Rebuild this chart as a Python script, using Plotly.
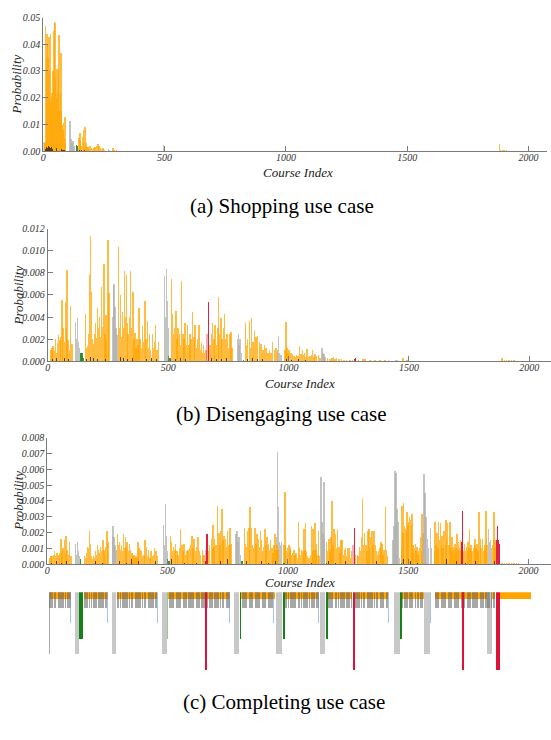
import plotly.graph_objects as go

# ================= DATA =================
# ---- (a) Shopping use case ----
a_orange_x = [8, 11, 14, 16, 19, 22, 25, 27, 30, 33, 36, 38, 41, 44, 47, 49, 52, 55, 58, 60, 63, 66, 68, 71, 74, 77, 79, 82, 85, 88, 90, 93,
              149, 152, 155, 159, 162, 166, 168, 173, 177, 181, 185, 189, 193, 199, 204, 210, 215, 221, 226, 230, 236, 241, 247, 251,
              288, 295, 303, 312, 322, 333, 347, 367, 395, 415,
              1881, 1885, 1893, 1900, 1910, 1920, 1930, 1940, 1950, 1960]
a_orange_y = [0.0030, 0.0470, 0.0350, 0.0440, 0.0400, 0.0350, 0.0430, 0.0300, 0.0440, 0.0180, 0.0200, 0.0220, 0.0300, 0.0450, 0.0485, 0.0480,
              0.0270, 0.0200, 0.0310, 0.0220, 0.0300, 0.0435, 0.0150, 0.0220, 0.0370, 0.0150, 0.0100, 0.0080, 0.0105, 0.0050, 0.0130, 0.0030,
              0.0050, 0.0070, 0.0040, 0.0020, 0.0053, 0.0030, 0.0080, 0.0090, 0.0030, 0.0018, 0.0015, 0.0010, 0.0020, 0.0012, 0.0008, 0.0013,
              0.0015, 0.0020, 0.0028, 0.0020, 0.0014, 0.0010, 0.0012, 0.0006,
              0.0012, 0.0005, 0.0004, 0.0003, 0.0003, 0.0002, 0.0001, 0.0001, 0.0003, 0.0001,
              0.0027, 0.0006, 0.0005, 0.0004, 0.0004, 0.0003, 0.0003, 0.0002, 0.0003, 0.0002]
a_gray_x = [4, 112, 116, 120, 124, 128, 269, 274, 496]
a_gray_y = [0.0035, 0.0115, 0.0045, 0.0030, 0.0040, 0.0020, 0.0008, 0.0006, 0.0023]
a_green_x = [137, 141]
a_green_y = [0.0023, 0.0020]
a_dark_x = [10, 14, 18, 23, 27, 31, 36, 40, 45, 49, 53, 57, 62, 66, 70, 75, 80, 85, 90, 150, 160, 170, 180, 190, 200, 215, 230, 245]
a_dark_y = [0.0010, 0.0018, 0.0012, 0.0020, 0.0015, 0.0012, 0.0018, 0.0010, 0.0014, 0.0034, 0.0016, 0.0012, 0.0018, 0.0010, 0.0012,
            0.0008, 0.0006, 0.0005, 0.0004, 0.0005, 0.0004, 0.0006, 0.0003, 0.0004, 0.0003, 0.0003, 0.0002, 0.0002]

# ---- (b) Disengaging use case ----
b_orange_x = [12, 17, 21, 26, 31, 35, 40, 44, 49, 53, 58, 62, 68, 72, 76, 79, 83, 89, 93, 99,
              156, 160, 164, 168, 172, 176, 181, 185, 189, 193, 197, 201, 206, 210, 214, 218, 222, 226, 232, 236, 240, 244, 250, 253,
              293, 297, 301, 306, 310, 314, 318, 322, 325, 329, 333, 338, 343, 347, 353, 357, 361, 365, 369, 374, 378, 382, 388, 392,
              397, 403, 407, 413, 417, 421, 426, 433, 439, 443, 447, 453, 458,
              514, 518, 522, 526, 531, 535, 540, 545, 550, 554, 560, 565, 569, 575, 579, 585, 589, 594, 600, 606, 611, 617, 622, 628,
              633, 638, 642, 646, 651, 656, 672, 678, 683, 689, 694, 700, 706, 708, 713, 718, 722, 728, 732, 736, 742, 746, 750, 756,
              760, 764,
              820, 824, 829, 836, 842, 846, 851, 857, 864, 871, 878, 885, 892, 899, 906, 913, 920, 926, 933, 940, 947, 953,
              985, 988, 992, 996, 1001, 1006, 1011, 1015, 1022, 1028, 1033, 1039, 1044, 1050, 1057, 1061, 1065, 1070, 1075, 1081,
              1088, 1094, 1098, 1104, 1109, 1116, 1123, 1130,
              1160, 1171, 1180, 1185, 1192, 1199, 1209, 1220, 1229, 1240, 1254, 1265,
              1289, 1309, 1316, 1337, 1358, 1378, 1399, 1413,
              1475, 1490, 1510, 1540, 1600, 1650, 1700, 1750, 1800, 1885, 1895, 1905, 1915, 1925, 1935, 1945]
b_orange_y = [0.0010, 0.0012, 0.0014, 0.0009, 0.0020, 0.0008, 0.0017, 0.0024, 0.0019, 0.0022, 0.0056, 0.0030, 0.0018, 0.0054, 0.0030,
              0.0083, 0.0019, 0.0010, 0.0050, 0.0016,
              0.0043, 0.0012, 0.0014, 0.0025, 0.0078, 0.0114, 0.0063, 0.0020, 0.0016, 0.0025, 0.0035, 0.0021, 0.0048, 0.0030, 0.0040,
              0.0022, 0.0067, 0.0031, 0.0088, 0.0025, 0.0042, 0.0020, 0.0110, 0.0062,
              0.0104, 0.0030, 0.0060, 0.0022, 0.0045, 0.0030, 0.0082, 0.0040, 0.0078, 0.0035, 0.0025, 0.0040, 0.0082, 0.0030, 0.0063,
              0.0020, 0.0026, 0.0012, 0.0020, 0.0015, 0.0048, 0.0020, 0.0012, 0.0032, 0.0018, 0.0055, 0.0020, 0.0037, 0.0012, 0.0025,
              0.0010, 0.0025, 0.0012, 0.0018, 0.0033, 0.0010, 0.0018,
              0.0075, 0.0043, 0.0025, 0.0030, 0.0046, 0.0020, 0.0030, 0.0025, 0.0015, 0.0073, 0.0025, 0.0020, 0.0035, 0.0015, 0.0033,
              0.0015, 0.0025, 0.0020, 0.0045, 0.0022, 0.0033, 0.0012, 0.0020, 0.0033, 0.0010, 0.0017, 0.0008, 0.0015, 0.0008, 0.0010,
              0.0015, 0.0025, 0.0035, 0.0020, 0.0033, 0.0015, 0.0030, 0.0058, 0.0025, 0.0039, 0.0020, 0.0030, 0.0043, 0.0020, 0.0025,
              0.0025, 0.0012, 0.0025, 0.0027, 0.0012,
              0.0035, 0.0015, 0.0020, 0.0037, 0.0012, 0.0039, 0.0018, 0.0028, 0.0022, 0.0023, 0.0018, 0.0016, 0.0010, 0.0015, 0.0012,
              0.0008, 0.0010, 0.0008, 0.0018, 0.0010, 0.0012, 0.0008,
              0.0010, 0.0036, 0.0012, 0.0008, 0.0010, 0.0008, 0.0008, 0.0007, 0.0005, 0.0004, 0.0006, 0.0005, 0.0014, 0.0007, 0.0010,
              0.0006, 0.0008, 0.0004, 0.0011, 0.0004, 0.0005, 0.0006, 0.0010, 0.0004, 0.0007, 0.0005, 0.0006, 0.0003,
              0.0003, 0.0002, 0.0003, 0.0004, 0.0002, 0.0003, 0.0002, 0.0002, 0.0001, 0.0001, 0.0001, 0.0001,
              0.0001, 0.0002, 0.0002, 0.0001, 0.0001, 0.0001, 0.0001, 0.0001,
              0.0003, 0.0001, 0.00005, 0.00005, 0.00005, 0.00004, 0.00004, 0.00004, 0.00004, 0.0003, 0.0001, 0.0001, 0.0001, 0.0001,
              0.0001, 0.00008]
b_gray_x = [114, 118, 122, 126, 130, 134, 267, 271, 275, 279, 283, 287, 484, 488, 492, 496, 500, 786, 790, 794, 798, 803,
            952, 957, 962, 967, 1138, 1142, 1146, 1150, 1445, 1452]
b_gray_y = [0.0036, 0.0020, 0.0039, 0.0018, 0.0012, 0.0008, 0.0040, 0.0068, 0.0070, 0.0049, 0.0030, 0.0024, 0.0077, 0.0040, 0.0084,
            0.0055, 0.0030, 0.0020, 0.0025, 0.0015, 0.0020, 0.0008, 0.0010, 0.0023, 0.0008, 0.0006, 0.0012, 0.0008, 0.0007, 0.0004,
            0.0001, 0.0001]
b_green_x = [137, 141, 145, 506, 811]
b_green_y = [0.0008, 0.0008, 0.0003, 0.0003, 0.0001]
b_red_x = [665, 1273, 1276, 1726]
b_red_y = [0.0054, 0.0002, 0.0003, 0.00005]
b_pink_x = [660]
b_pink_y = [0.0025]
b_dark_x = [20, 35, 50, 58, 70, 85, 95, 160, 175, 190, 205, 220, 240, 300, 315, 330, 350, 370, 390, 410, 430, 450,
            515, 530, 550, 570, 590, 610, 640, 660, 680, 700, 720, 740, 760, 830, 850, 870, 890, 910, 930, 990, 1010, 1040, 1070, 1100]
b_dark_y = [0.0002, 0.0003, 0.0004, 0.0002, 0.0003, 0.0002, 0.0001, 0.0002, 0.0004, 0.0003, 0.0002, 0.0003, 0.0002, 0.0004, 0.0003,
            0.0002, 0.0003, 0.0002, 0.0003, 0.0002, 0.0003, 0.0002, 0.0004, 0.0002, 0.0003, 0.0002, 0.0003, 0.0002, 0.0003, 0.0002,
            0.0003, 0.0002, 0.0002, 0.0003, 0.0002, 0.0002, 0.0003, 0.0002, 0.0002, 0.0002, 0.0001, 0.0002, 0.0001, 0.0002, 0.0001,
            0.0001]

# ---- (c) Completing use case ----
c_orange_x = [12, 17, 21, 26, 31, 35, 39, 44, 49, 53, 58, 62, 67, 72, 76, 79, 83, 89, 93, 99,
              156, 160, 164, 168, 172, 176, 181, 185, 189, 193, 197, 201, 206, 210, 214, 218, 222, 226, 232, 236, 240, 244, 250, 253,
              293, 297, 301, 306, 310, 314, 318, 322, 325, 329, 333, 338, 343, 347, 353, 357, 361, 365, 369, 374, 378, 382, 388, 392,
              397, 403, 408, 413, 417, 422, 428, 433, 439, 443, 447, 453, 458,
              514, 518, 522, 526, 531, 535, 540, 545, 550, 554, 560, 565, 569, 575, 581, 586, 592, 596, 603, 607, 611, 617, 621, 628,
              633, 638, 645, 649, 653, 672, 676, 683, 688, 690, 694, 697, 703, 708, 714, 718, 722, 728, 732, 736, 742, 746, 750, 756,
              760, 764,
              820, 824, 829, 833, 839, 844, 850, 854, 858, 864, 868, 872, 878, 882, 886, 892, 896, 900, 906, 910, 914, 920, 924, 929,
              935, 939, 944, 947, 951, 955, 960,
              985, 988, 992, 996, 1000, 1006, 1010, 1012, 1017, 1021, 1026, 1030, 1035, 1040, 1044, 1050, 1054, 1058, 1064, 1068, 1072,
              1075, 1079, 1083, 1088, 1094, 1098, 1102, 1105, 1109, 1113, 1117, 1120, 1124, 1127, 1131,
              1162, 1166, 1171, 1175, 1180, 1185, 1189, 1193, 1199, 1203, 1207, 1213, 1217, 1221, 1226, 1231, 1235, 1240, 1244, 1249,
              1254, 1260, 1265,
              1282, 1289, 1293, 1298, 1302, 1307, 1312, 1316, 1320, 1326, 1330, 1333, 1337, 1341, 1345, 1351, 1355, 1359, 1365, 1369,
              1373, 1378, 1383, 1387, 1392, 1396, 1400, 1406, 1410, 1414,
              1472, 1475, 1479, 1482, 1486, 1489, 1493, 1496, 1500, 1503, 1507, 1510, 1514, 1516, 1521, 1523, 1528, 1530, 1534, 1537,
              1541, 1544, 1548, 1551, 1555, 1558,
              1610, 1613, 1617, 1620, 1624, 1627, 1631, 1634, 1638, 1641, 1645, 1650, 1655, 1657, 1661, 1664, 1670, 1675, 1679, 1682,
              1686, 1689, 1693, 1696, 1700, 1703, 1707, 1710, 1714, 1717, 1721,
              1731, 1735, 1738, 1742, 1746, 1749, 1751, 1755, 1758, 1762, 1766, 1772, 1776, 1779, 1783, 1786, 1790, 1795, 1800, 1802,
              1806, 1809, 1813, 1817, 1820, 1824, 1827, 1830, 1851, 1855, 1858, 1861, 1864,
              1890, 1900, 1910, 1920, 1930, 1940, 1950, 1960]
c_orange_y = [0.0004, 0.0005, 0.0005, 0.0006, 0.0008, 0.0005, 0.0007, 0.0007, 0.0006, 0.0007, 0.0016, 0.0008, 0.0010, 0.0015, 0.0007,
              0.0018, 0.0009, 0.0006, 0.0014, 0.0005,
              0.0005, 0.0004, 0.0007, 0.0011, 0.0010, 0.0021, 0.0013, 0.0005, 0.0003, 0.0005, 0.0004, 0.0008, 0.0006, 0.0012, 0.0009,
              0.0007, 0.0011, 0.0008, 0.0015, 0.0009, 0.0007, 0.0011, 0.0021, 0.0014,
              0.0019, 0.0012, 0.0014, 0.0009, 0.0012, 0.0008, 0.0019, 0.0010, 0.0017, 0.0011, 0.0014, 0.0008, 0.0013, 0.0009, 0.0007,
              0.0005, 0.0006, 0.0004, 0.0005, 0.0004, 0.0014, 0.0010, 0.0009, 0.0008, 0.0005, 0.0006, 0.0015, 0.0011, 0.0005, 0.0009,
              0.0004, 0.0008, 0.0005, 0.0006, 0.0010, 0.0008, 0.0005,
              0.0018, 0.0014, 0.0008, 0.0011, 0.0009, 0.0013, 0.0008, 0.0006, 0.0010, 0.0022, 0.0012, 0.0008, 0.0013, 0.0006, 0.0008,
              0.0009, 0.0010, 0.0012, 0.0018, 0.0010, 0.0016, 0.0008, 0.0011, 0.0017, 0.0008, 0.0006, 0.0009, 0.0005, 0.0006,
              0.0008, 0.0012, 0.0016, 0.0010, 0.0025, 0.0011, 0.0016, 0.0012, 0.0037, 0.0020, 0.0012, 0.0021, 0.0035, 0.0015, 0.0018,
              0.0016, 0.0011, 0.0021, 0.0012, 0.0023, 0.0013,
              0.0023, 0.0013, 0.0011, 0.0021, 0.0023, 0.0036, 0.0023, 0.0012, 0.0010, 0.0023, 0.0013, 0.0019, 0.0016, 0.0011, 0.0021,
              0.0015, 0.0008, 0.0011, 0.0022, 0.0012, 0.0017, 0.0013, 0.0009, 0.0015, 0.0010, 0.0007, 0.0012, 0.0019, 0.0009, 0.0012,
              0.0009,
              0.0012, 0.0046, 0.0012, 0.0008, 0.0010, 0.0012, 0.0009, 0.0011, 0.0006, 0.0007, 0.0009, 0.0006, 0.0007, 0.0004, 0.0027,
              0.0010, 0.0006, 0.0009, 0.0008, 0.0022, 0.0009, 0.0026, 0.0008, 0.0005, 0.0004, 0.0006, 0.0024, 0.0008, 0.0022, 0.0009,
              0.0026, 0.0009, 0.0013, 0.0006, 0.0021, 0.0005,
              0.0014, 0.0008, 0.0016, 0.0009, 0.0017, 0.0040, 0.0012, 0.0022, 0.0019, 0.0010, 0.0022, 0.0011, 0.0007, 0.0015, 0.0015,
              0.0006, 0.0009, 0.0010, 0.0005, 0.0010, 0.0010, 0.0004, 0.0008,
              0.0006, 0.0006, 0.0005, 0.0011, 0.0008, 0.0017, 0.0041, 0.0012, 0.0020, 0.0012, 0.0008, 0.0021, 0.0022, 0.0010, 0.0017,
              0.0021, 0.0012, 0.0021, 0.0012, 0.0008, 0.0006, 0.0008, 0.0010, 0.0014, 0.0013, 0.0006, 0.0009, 0.0036, 0.0009, 0.0005,
              0.0010, 0.0037, 0.0020, 0.0039, 0.0024, 0.0022, 0.0021, 0.0033, 0.0025, 0.0027, 0.0030, 0.0028, 0.0025, 0.0032, 0.0012,
              0.0007, 0.0010, 0.0013, 0.0008, 0.0011, 0.0006, 0.0008, 0.0010, 0.0017, 0.0008, 0.0032,
              0.0008, 0.0027, 0.0012, 0.0020, 0.0010, 0.0027, 0.0015, 0.0026, 0.0012, 0.0018, 0.0010, 0.0021, 0.0012, 0.0028, 0.0015,
              0.0026, 0.0012, 0.0027, 0.0010, 0.0017, 0.0009, 0.0011, 0.0007, 0.0013, 0.0010, 0.0019, 0.0009, 0.0014, 0.0010, 0.0015,
              0.0008,
              0.0008, 0.0013, 0.0008, 0.0011, 0.0008, 0.0014, 0.0010, 0.0022, 0.0010, 0.0012, 0.0008, 0.0010, 0.0012, 0.0016, 0.0010,
              0.0013, 0.0009, 0.0033, 0.0012, 0.0016, 0.0010, 0.0016, 0.0008, 0.0009, 0.0012, 0.0034, 0.0016, 0.0012, 0.0012, 0.0015,
              0.0033, 0.0015, 0.0010,
              0.00006, 0.00005, 0.00006, 0.00005, 0.00005, 0.00005, 0.00004, 0.00004]
c_gray_x = [118, 122, 126, 130, 134, 271, 275, 279, 283, 287, 485, 489, 493, 497, 501, 786, 790, 794, 798, 803,
            953, 957, 961, 965, 969, 974, 1138, 1142, 1146, 1150, 1154, 1437, 1441, 1445, 1450, 1455, 1459, 1464,
            1562, 1566, 1570, 1575, 1580, 1586, 1593, 1598, 1834, 1838, 1842, 1846]
c_gray_y = [0.0013, 0.0006, 0.0014, 0.0008, 0.0005, 0.0018, 0.0024, 0.0017, 0.0012, 0.0009, 0.0025, 0.0012, 0.0038, 0.0018, 0.0008,
            0.0019, 0.0021, 0.0014, 0.0017, 0.0006, 0.0017, 0.0071, 0.0036, 0.0014, 0.0012, 0.0014, 0.0055, 0.0027, 0.0020, 0.0052,
            0.0016, 0.0015, 0.0024, 0.0059, 0.0058, 0.0035, 0.0027, 0.0004, 0.0020, 0.0057, 0.0045, 0.0030, 0.0016, 0.0010, 0.0023,
            0.0010, 0.0022, 0.0014, 0.0015, 0.0010]
c_green_x = [139, 506, 811, 984, 1162, 1472]
c_green_y = [0.0003, 0.0002, 0.0002, 0.0001, 0.0001, 0.0001]
c_red_x = [665, 1276, 1724, 1727, 1869, 1873, 1877, 1881]
c_red_y = [0.0019, 0.0023, 0.0014, 0.0034, 0.0015, 0.0024, 0.0015, 0.0013]
c_pink_x = [660, 1271]
c_pink_y = [0.0009, 0.0012]
c_dark_x = [20, 40, 60, 80, 95, 175, 200, 230, 300, 330, 350, 380, 420, 450, 517, 540, 570, 590, 620, 660, 690, 720, 750,
            830, 860, 890, 920, 950, 1000, 1030, 1060, 1100, 1170, 1200, 1240, 1300, 1330, 1370, 1400, 1480, 1510, 1540,
            1620, 1660, 1700, 1740, 1780, 1820, 1860]
c_dark_y = [0.0001, 0.0002, 0.0001, 0.0002, 0.0001, 0.0003, 0.0002, 0.0001, 0.0002, 0.0001, 0.0003, 0.0002, 0.0001, 0.0002, 0.0003,
            0.0002, 0.0001, 0.0002, 0.0001, 0.0002, 0.0001, 0.0002, 0.0003, 0.0002, 0.0001, 0.0002, 0.0001, 0.0002, 0.0003, 0.0001,
            0.0002, 0.0001, 0.0002, 0.0001, 0.0002, 0.0002, 0.0001, 0.0002, 0.0004, 0.0003, 0.0002, 0.0001, 0.0002, 0.0003, 0.0002,
            0.0001, 0.0002, 0.0003, 0.0002]

# ---- (c) course structure strip ----
strip_orange_blocks = [(8, 99), (152, 253), (289, 458), (504, 760), (808, 946), (987, 1129), (1165, 1268),
                       (1280, 1418), (1475, 1565), (1611, 1862), (1882, 2013)]
strip_stripes = [12, 18, 24, 30, 36, 48, 54, 60, 66, 78, 84, 90, 96,
                 156, 162, 168, 176, 186, 192, 198, 204, 214, 220, 226, 232, 242, 248,
                 292, 298, 304, 316, 322, 328, 334, 344, 350, 356, 368, 374, 380, 386, 398, 404, 410, 422, 428, 434, 440, 450, 456,
                 508, 514, 520, 526, 538, 544, 550, 556, 566, 572, 578, 590, 596, 602, 608, 620, 626, 632, 644, 650, 656,
                 668, 674, 680, 686, 698, 704, 710, 722, 728, 734, 746, 752, 758,
                 812, 818, 824, 830, 842, 848, 854, 866, 872, 878, 884, 896, 902, 908, 920, 926, 932, 938,
                 990, 996, 1002, 1014, 1020, 1026, 1032, 1044, 1050, 1056, 1068, 1074, 1080, 1092, 1098, 1104, 1110, 1120, 1126,
                 1168, 1174, 1180, 1186, 1198, 1204, 1210, 1222, 1228, 1234, 1246, 1252, 1258, 1264,
                 1284, 1290, 1296, 1308, 1314, 1320, 1332, 1338, 1344, 1350, 1362, 1368, 1374, 1386, 1392, 1398, 1410, 1416,
                 1478, 1484, 1490, 1496, 1508, 1514, 1520, 1532, 1538, 1544, 1554, 1560,
                 1614, 1620, 1626, 1638, 1644, 1650, 1656, 1668, 1674, 1680, 1692, 1698, 1704, 1710, 1722, 1728, 1734,
                 1746, 1752, 1758, 1770, 1776, 1782, 1788, 1800, 1806, 1812, 1824, 1830, 1836, 1848, 1854, 1860]
strip_blue = [99, 253, 460, 760, 942, 1129, 1418, 1593]
strip_green = [136, 146, 804, 984, 1162, 1472]
strip_green_light = [501]
strip_gray_blocks = [(116, 132), (268, 285), (479, 499), (777, 797), (953, 978), (1136, 1157), (1442, 1466),
                     (1565, 1590), (1830, 1850)]
strip_gray_thin = [10]
strip_red = [660, 1276, 1728]
strip_red_blocks = [(1867, 1882)]

# ================= STYLE =================
ORANGE = "rgba(255,165,0,0.75)"
GRAY = "rgba(175,175,175,0.75)"
GREEN = "rgba(34,139,34,0.9)"
RED = "rgba(220,20,60,0.95)"
PINK = "rgba(220,20,60,0.35)"
DARK = "rgba(50,35,0,0.8)"
DEPTH = {"orange": 7, "stripe": 16, "blue": 31, "green": 47, "gray": 62, "red": 78}
SERIF = "Liberation Serif, Times New Roman, serif"

fig = go.Figure()


def bars(x, y, color, xa, ya, width=6.0):
    fig.add_trace(go.Bar(x=x, y=y, width=width, marker=dict(color=color, line=dict(width=0)),
                         xaxis=xa, yaxis=ya, showlegend=False, hoverinfo="skip"))


panels = [
    ("x", "y", a_orange_x, a_orange_y, a_gray_x, a_gray_y, a_green_x, a_green_y, [], [], [], [], a_dark_x, a_dark_y),
    ("x2", "y2", b_orange_x, b_orange_y, b_gray_x, b_gray_y, b_green_x, b_green_y, b_red_x, b_red_y, b_pink_x, b_pink_y,
     b_dark_x, b_dark_y),
    ("x3", "y3", c_orange_x, c_orange_y, c_gray_x, c_gray_y, c_green_x, c_green_y, c_red_x, c_red_y, c_pink_x, c_pink_y,
     c_dark_x, c_dark_y),
]
for (xa, ya, ox, oy, gx, gy, grx, gry, rx, ry, px, py, dx, dy) in panels:
    bars(gx, gy, GRAY, xa, ya)
    bars(ox, oy, ORANGE, xa, ya)
    if grx:
        bars(grx, gry, GREEN, xa, ya)
    bars(dx, dy, DARK, xa, ya, width=3)
    if px:
        bars(px, py, PINK, xa, ya)
    if rx:
        bars(rx, ry, RED, xa, ya, width=5)


def strip_bars(centers, widths, depth, color):
    fig.add_trace(go.Bar(x=centers, y=[-depth] * len(centers), base=0, width=widths,
                         marker=dict(color=color, line=dict(width=0)), xaxis="x4", yaxis="y4",
                         showlegend=False, hoverinfo="skip"))


strip_bars([(s + e) / 2 for s, e in strip_orange_blocks], [e - s for s, e in strip_orange_blocks],
           DEPTH["orange"], "rgba(255,165,0,1)")
strip_bars([(s + e) / 2 for s, e in strip_gray_blocks], [e - s for s, e in strip_gray_blocks],
           DEPTH["gray"], "rgba(200,200,200,1)")
strip_bars(strip_gray_thin, [2.5] * len(strip_gray_thin), DEPTH["gray"], "rgba(170,170,170,1)")
strip_bars(strip_stripes, [5.5] * len(strip_stripes), DEPTH["stripe"], "rgba(95,95,95,0.55)")
strip_bars(strip_blue, [4] * len(strip_blue), DEPTH["blue"], "rgba(110,150,235,0.6)")
strip_bars(strip_green, [4] * len(strip_green), DEPTH["green"], "rgba(20,130,20,1)")
strip_bars(strip_green_light, [4] * len(strip_green_light), DEPTH["green"], "rgba(60,160,60,0.55)")
strip_bars(strip_red, [5] * len(strip_red), DEPTH["red"], "rgba(220,20,60,1)")
strip_bars([(s + e) / 2 for s, e in strip_red_blocks], [e - s for s, e in strip_red_blocks],
           DEPTH["red"], "rgba(220,20,60,1)")

W, H = 551, 740


# page placement correction (target pixel -> layout pixel)
def PX(p):
    return p - 1.5


def PY(p):
    return (p - 4.1) / 0.983


def px_dom_x(l, r):
    return [max(0, PX(l) / W), min(1, PX(r) / W)]


def px_dom_y(top, bottom):
    return [max(0, 1 - PY(bottom) / H), min(1, 1 - PY(top) / H)]


axis_col = "#7a7a7a"
tickfont = dict(family=SERIF, size=10, color="#333", style="italic")
xcommon = dict(showgrid=False, zeroline=False, showline=True, linecolor=axis_col, linewidth=1,
               ticks="inside", ticklen=5, tickcolor=axis_col, tickfont=tickfont,
               tickvals=[0, 500, 1000, 1500, 2000], ticklabelstandoff=-3)
ycommon = dict(showgrid=False, zeroline=False, showline=True, linecolor=axis_col, linewidth=1,
               ticks="inside", ticklen=5, tickcolor=axis_col, tickfont=tickfont)

fig.update_layout(
    width=W, height=H, margin=dict(l=0, r=0, t=0, b=0), autosize=False,
    paper_bgcolor="white", plot_bgcolor="white", barmode="overlay", bargap=0,
    xaxis=dict(domain=px_dom_x(42, 548), range=[0, 2074], anchor="y", **xcommon),
    yaxis=dict(domain=px_dom_y(15.7, 149), range=[0, 0.05], anchor="x", tickformat=".2f",
               tickvals=[0, 0.01, 0.02, 0.03, 0.04, 0.05], **ycommon),
    xaxis2=dict(domain=px_dom_x(46.5, 552.5), range=[0, 2090], anchor="y2", **xcommon),
    yaxis2=dict(domain=px_dom_y(226.7, 359), range=[0, 0.012], anchor="x2", tickformat=".3f",
                tickvals=[0, 0.002, 0.004, 0.006, 0.008, 0.010, 0.012], **ycommon),
    xaxis3=dict(domain=px_dom_x(46, 552.5), range=[0, 2093], anchor="y3", **xcommon),
    yaxis3=dict(domain=px_dom_y(435.7, 561.7), range=[0, 0.008], anchor="x3", tickformat=".3f",
                tickvals=[0, 0.001, 0.002, 0.003, 0.004, 0.005, 0.006, 0.007, 0.008], **ycommon),
    xaxis4=dict(domain=px_dom_x(46, 552.5), range=[0, 2093], anchor="y4", visible=False),
    yaxis4=dict(domain=px_dom_y(590, 668), range=[-DEPTH["red"], 0], anchor="x4", visible=False),
)


def ann(text, xp, yp, size, angle=0, italic=False):
    fig.add_annotation(text=("<i>%s</i>" % text) if italic else text, x=PX(xp) / W, y=1 - PY(yp) / H,
                       xref="paper", yref="paper", showarrow=False, textangle=angle,
                       font=dict(family=SERIF, size=size, color="#222" if italic else "black"),
                       xanchor="center", yanchor="middle")


ann("Probability", 16, 82, 13, -90, True)
ann("Probability", 17, 293, 13, -90, True)
ann("Probability", 17, 498, 13, -90, True)
ann("Course Index", 298, 170, 13, 0, True)
ann("Course Index", 300, 381, 13, 0, True)
ann("Course Index", 300, 580, 13, 0, True)
ann("(a) Shopping use case", 282, 204, 21)
ann("(b) Disengaging use case", 282, 412, 21)
ann("(c) Completing use case", 284, 700, 21)

post = ("document.documentElement.style.margin='0';document.body.style.margin='0';"
        "document.documentElement.style.overflow='hidden';document.body.style.overflow='hidden';"
        "var d=document.getElementById('{plot_id}');d.style.position='fixed';d.style.left='0px';d.style.top='0px';")
fig.write_html("out.html", config={"displayModeBar": False}, post_script=post)
